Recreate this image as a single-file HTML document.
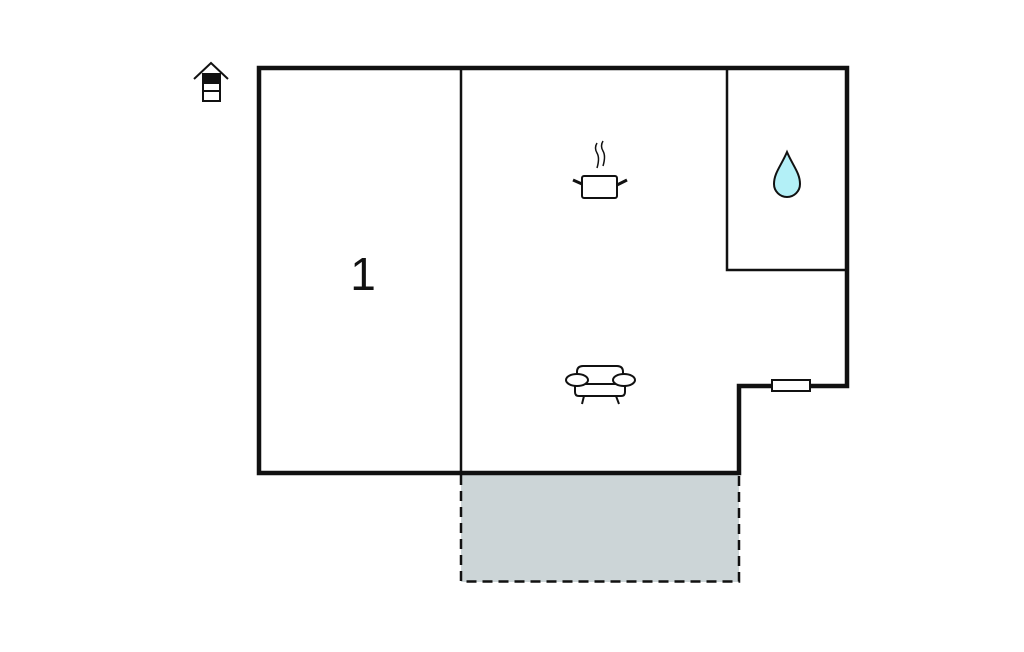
<!DOCTYPE html>
<html><head><style>html,body{margin:0;padding:0;background:#fff;}svg{display:block}</style></head>
<body>
<svg width="1024" height="652" viewBox="0 0 1024 652" xmlns="http://www.w3.org/2000/svg">
<rect x="461" y="475" width="278" height="107" fill="#ccd5d7"/>
<path d="M461 475 V581.5 H739 V475" fill="none" stroke="#111" stroke-width="2.5" stroke-dasharray="10,6"/>
<line x1="461" y1="68" x2="461" y2="473" stroke="#111" stroke-width="2.5"/>
<polyline points="727,68 727,270 847,270" fill="none" stroke="#111" stroke-width="2.5"/>
<path d="M259 68 H847 V386 H739 V473 H259 Z" fill="none" stroke="#111" stroke-width="4.5"/>
<rect x="772" y="380" width="38" height="11" fill="#fff" stroke="#111" stroke-width="2"/>
<text x="363" y="290" font-family="Liberation Sans, sans-serif" font-size="46" text-anchor="middle" fill="#111">1</text>
<!-- entrance icon -->
<g fill="none" stroke="#111" stroke-width="2">
<polyline points="194,79 211,63 228,79"/>
<rect x="203" y="74" width="17" height="27" fill="#fff"/>
<rect x="203" y="74" width="17" height="9" fill="#111"/>
<line x1="203" y1="91" x2="220" y2="91"/>
</g>
<!-- pot -->
<g fill="none" stroke="#111" stroke-width="2">
<rect x="582" y="176" width="35" height="22" rx="2"/>
<line x1="573" y1="180" x2="582" y2="184" stroke-width="3"/>
<line x1="627" y1="180" x2="617" y2="185" stroke-width="3"/>
<path d="M597 143 q-3 5 0 10 q3 5 0 15" stroke-width="1.5"/>
<path d="M603 141 q-3 5 0 10 q3 5 0 15" stroke-width="1.5"/>
</g>
<!-- drop -->
<path d="M787 152 C781 166 774 173 774 184 A13 13 0 0 0 800 184 C800 173 793 166 787 152 Z" fill="#b3f0f7" stroke="#111" stroke-width="2"/>
<!-- sofa -->
<g fill="none" stroke="#111" stroke-width="2">
<path d="M577 384 V372 q0 -6 6 -6 h34 q6 0 6 6 V384"/>
<line x1="577" y1="384" x2="623" y2="384"/>
<path d="M575 385 V392 q0 4 4 4 h42 q4 0 4 -4 V385"/>
<ellipse cx="577" cy="380" rx="11" ry="6" fill="#fff"/>
<ellipse cx="624" cy="380" rx="11" ry="6" fill="#fff"/>
<line x1="584" y1="396" x2="582" y2="404"/>
<line x1="616" y1="396" x2="619" y2="404"/>
</g>
</svg>
</body></html>
